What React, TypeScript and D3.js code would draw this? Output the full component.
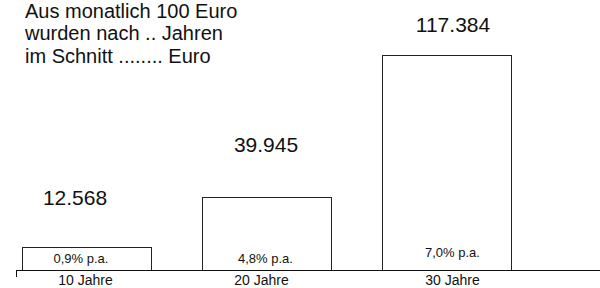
import React from "react";
import * as d3 from "d3";

const categories = ["10 Jahre", "20 Jahre", "30 Jahre"];
const values = [12568, 39945, 117384];
const valueLabels = ["12.568", "39.945", "117.384"];
const rateLabels = ["0,9% p.a.", "4,8% p.a.", "7,0% p.a."];
const titleLines = ["Aus monatlich 100 Euro", "wurden nach .. Jahren", "im Schnitt ........ Euro"];

// layout nudges (not data)
const titleBaselines = [18.3, 40, 63];
const valueLabelDx = [-11.5, -0.5, 6.5];
const valueLabelGap = [42, 45, 23];
const rateLabelDx = [-5.5, -1, 6];
const rateLabelBaseline = [263, 263, 257];
const catLabelDx = [-1, -5, 6];

const W = 600;
const H = 288;
const FONT = "Arial, 'Liberation Sans', Helvetica, sans-serif";

export default function App() {
  const x = d3
    .scaleBand<string>()
    .domain(categories)
    .range([-3.5, 536.5])
    .paddingInner(51 / 180)
    .paddingOuter(25.5 / 180);
  const y = d3.scaleLinear().domain([0, 117384]).range([270, 55]);
  const baseY = y(0);

  return (
    <svg
      width={W}
      height={H}
      style={{ position: "absolute", left: 0, top: 0, background: "#fff" }}
      fontFamily={FONT}
    >
      <rect x={0} y={0} width={W} height={H} fill="#fff" />
      {titleLines.map((t, i) => (
        <text key={t} x={25} y={titleBaselines[i]} fontSize={20} fill="#111">
          {t}
        </text>
      ))}
      {categories.map((c, i) => {
        const bx = x(c)!;
        const bw = x.bandwidth();
        const top = y(values[i]);
        const cx = bx + bw / 2;
        return (
          <g key={c}>
            <rect
              x={Math.round(bx) + 0.5}
              y={Math.round(top) + 0.5}
              width={Math.round(bw)}
              height={Math.round(baseY - top)}
              fill="#fff"
              stroke="#222"
              strokeWidth={1}
            />
            <text
              x={cx + valueLabelDx[i]}
              y={top - valueLabelGap[i]}
              textAnchor="middle"
              fontSize={21}
              fill="#111"
            >
              {valueLabels[i]}
            </text>
            <text
              x={cx + rateLabelDx[i]}
              y={rateLabelBaseline[i]}
              textAnchor="middle"
              fontSize={13}
              fill="#111"
            >
              {rateLabels[i]}
            </text>
            <text x={cx + catLabelDx[i]} y={285} textAnchor="middle" fontSize={14} fill="#111">
              {c}
            </text>
          </g>
        );
      })}
      <line x1={16} x2={600} y1={270.5} y2={270.5} stroke="#111" strokeWidth={1} />
      <line x1={16.5} x2={16.5} y1={270} y2={277} stroke="#111" strokeWidth={1} />
    </svg>
  );
}
